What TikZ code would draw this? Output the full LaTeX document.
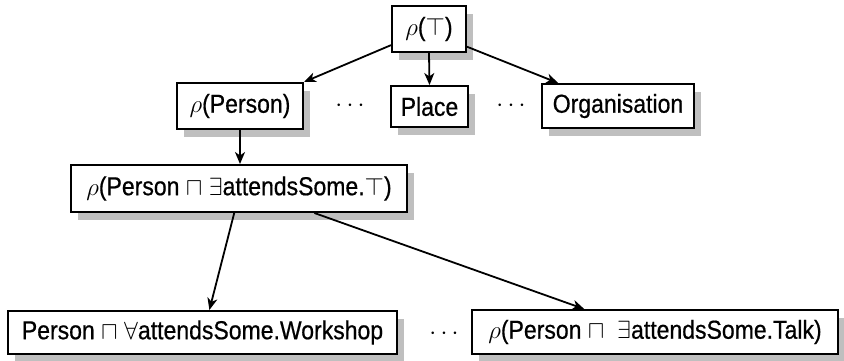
\documentclass[tikz,border=0pt]{standalone}
\usepackage{fontspec}
\setmainfont[FakeStretch=0.885,FakeBold=0.6]{Liberation Sans}
\usetikzlibrary{arrows.meta,shadows}
\begin{document}
\begin{tikzpicture}[x=1pt,y=-1pt,
  box/.style={draw,line width=2pt,fill=white,inner sep=0pt,align=center,
    drop shadow={shadow xshift=7pt,shadow yshift=-8pt,fill=black!25,opacity=1}},
  arr/.style={line width=1.8pt,-{Stealth[length=12pt,width=10pt,inset=3.5pt]}},
  dotsn/.style={inner sep=0pt},
  every node/.style={font=\fontsize{26}{31}\selectfont}]
\useasboundingbox (0,0) rectangle (844,360);
\node[box,minimum width=74pt,minimum height=46pt] (top) at (429,29) {$\rho$($\top$)};
\node[box,minimum width=126pt,minimum height=46pt] (person) at (240,106) {$\rho$(Person)};
\node[box,minimum width=77pt,minimum height=41pt] (place) at (429.5,106.5) {Place};
\node[box,minimum width=152pt,minimum height=44pt] (org) at (618,106) {Organisation};
\node[box,minimum width=336pt,minimum height=47pt] (mid) at (239,188.5) {$\rho$(Person $\sqcap$ $\exists$attendsSome.$\top$)};
\node[box,minimum width=389pt,minimum height=43pt] (work) at (202.5,332.5) {Person $\sqcap$ $\forall$attendsSome.Workshop};
\node[box,minimum width=366pt,minimum height=44pt] (talk) at (655,332) {$\rho$(Person $\sqcap$\ \ $\exists$attendsSome.Talk)};
\node[dotsn] (d1) at (350,106) {$\cdots$};
\node[dotsn] (d2) at (511,106) {$\cdots$};
\node[dotsn] (d3) at (444,334) {$\cdots$};
\draw[arr] (top.203) -- (person.north east);
\draw[arr] (top.south) -- (place.north);
\draw[arr] (top.335) -- (org.159);
\draw[arr] (person.south) -- (person.south |- mid.north);
\draw[arr] (mid.259) -- (work.73);
\draw[arr] (mid.342) -- (talk.162);
\end{tikzpicture}
\end{document}
